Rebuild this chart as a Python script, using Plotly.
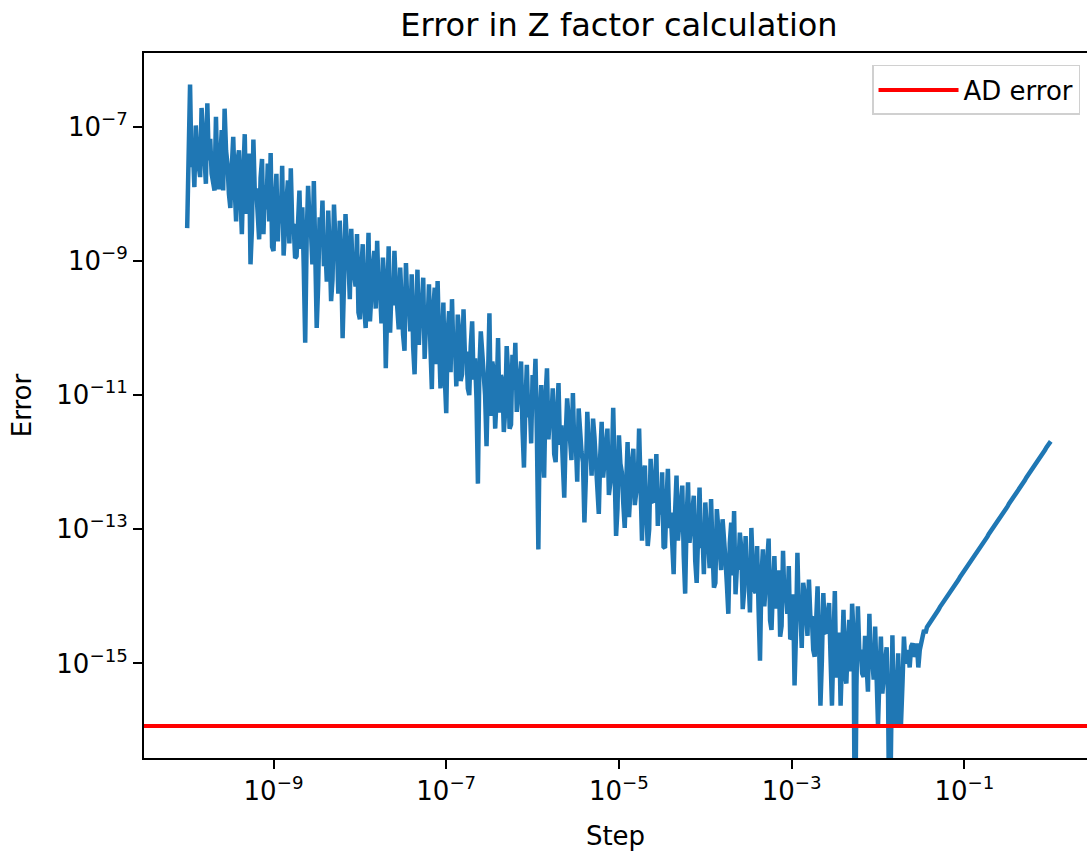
import numpy as np
import plotly.graph_objects as go

# log10 of the finite-difference error for each step size (None = error exactly zero)
err_exp = [
    -8.51, -7.05, -6.37, -7.60, -7.35, -7.90, -6.98, -7.40, -7.62, -7.75,
    -6.72, -7.25, -7.45, -7.85, -6.65, -7.50, -7.18, -7.70, -7.80, -7.95,
    -6.85, -7.80, -7.93, -7.45, -7.05, -7.95, -6.73, -7.35, -7.56, -8.00,
    -8.21, -7.60, -7.15, -7.90, -8.41, -7.50, -7.35, -8.05, -8.60, -7.70,
    -7.11, -8.30, -7.75, -7.40, -9.05, -8.52, -7.19, -8.00, -7.92, -8.33,
    -8.68, -7.76, -7.48, -8.60, -7.87, -8.23, -7.55, -8.41, -7.39, -8.79,
    -8.85, -8.12, -7.70, -8.71, -8.12, -8.44, -7.58, -8.92, -8.30, -8.11,
    -7.80, -8.74, -7.62, -8.47, -8.45, -8.96, -8.93, -8.34, -7.95, -8.82,
    -8.20, -9.10, -10.22, -8.68, -7.88, -8.41, -8.55, -9.05, -7.81, -8.88,
    -10.00, -9.36, -8.35, -8.70, -8.10, -9.08, -8.78, -9.31, -8.25, -8.84,
    -9.60, -9.27, -8.16, -8.71, -8.70, -9.49, -8.40, -8.97, -10.15, -9.30,
    -8.30, -8.74, -8.95, -9.57, -8.52, -9.20, -9.20, -9.38, -8.60, -9.77,
    -9.87, -9.10, -8.75, -9.68, -10.00, -9.41, -8.58, -9.90, -9.30, -9.08,
    -8.85, -9.71, -8.70, -9.44, -9.45, -9.93, -8.95, -9.31, -10.60, -9.79,
    -8.78, -10.07, -9.40, -9.66, -8.85, -9.39, -9.62, -10.02, -9.10, -9.85,
    -10.10, -10.34, -9.03, -9.67, -9.55, -10.05, -9.20, -10.28, -10.69, -9.82,
    -9.13, -10.25, -9.70, -9.68, -9.25, -10.46, -9.90, -9.95, -9.35, -10.28,
    -10.91, -9.71, -9.40, -10.54, -9.30, -10.18, -10.90, -10.36, -9.62, -10.74,
    -11.27, -10.07, -9.75, -10.66, -9.57, -10.39, -10.20, -10.87, -9.80, -10.05,
    -10.79, -10.69, -9.72, -10.42, -10.35, -10.90, -11.00, -10.28, -9.90, -10.77,
    -10.45, -11.05, -12.32, -10.63, -10.05, -10.36, -10.60, -11.00, -11.76, -10.83,
    -9.78, -11.31, -10.50, -10.64, -11.50, -11.03, -10.15, -11.26, -10.70, -10.79,
    -11.55, -11.22, -10.27, -10.66, -11.50, -11.44, -10.40, -10.92, -10.22, -11.25,
    -10.95, -10.69, -10.50, -11.52, -12.08, -11.15, -10.55, -11.33, -11.10, -11.72,
    -10.70, -11.05, -10.46, -11.63, -13.30, -11.36, -10.85, -11.85, -12.23, -11.03,
    -10.60, -11.66, -11.30, -11.39, -10.90, -11.88, -12.00, -11.26, -10.82, -11.74,
    -11.45, -12.02, -12.53, -11.61, -11.05, -11.34, -11.60, -11.97, -10.97, -11.80,
    -11.70, -12.29, -11.20, -11.62, -11.85, -12.00, -12.90, -12.23, -11.25, -11.77,
    -11.75, -12.20, -11.35, -11.63, -12.10, -12.41, -12.77, -11.90, -11.40, -12.23,
    -11.95, -11.66, -11.50, -12.49, -12.25, -12.13, -11.19, -12.31, -13.10, -12.69,
    -11.60, -12.02, -12.15, -12.61, -12.98, -12.34, -11.70, -12.82, -12.30, -12.00,
    -11.80, -12.64, -12.45, -12.37, -11.50, -12.85, -13.17, -12.23, -12.05, -12.72,
    -13.25, -13.00, -11.95, -12.58, -12.60, -12.31, -11.88, -12.95, -12.40, -12.78,
    -12.15, -13.26, -13.28, -12.59, -12.10, -12.98, -12.75, -13.21, -13.67, -12.74,
    -12.20, -13.17, -12.85, -12.61, -12.35, -13.39, -13.96, -12.87, -12.30, -13.20,
    -12.95, -12.64, -12.50, -13.47, -13.80, -13.10, -12.38, -13.28, -13.05, -13.67,
    -12.60, -13.00, -13.20, -13.58, -12.55, -13.31, -13.87, -13.80, -12.70, -12.98,
    -13.30, -13.61, -12.85, -13.34, -13.45, -13.83, -14.26, -13.21, -12.90, -13.69,
    -12.73, -13.97, -13.55, -13.56, -13.05, -13.29, -14.19, -13.92, -13.10, -13.75,
    -13.70, -14.24, -12.98, -13.57, -13.90, -13.95, -13.25, -14.18, -14.96, -13.72,
    -13.30, -14.15, -13.85, -13.58, -13.14, -14.36, -14.50, -13.85, -13.40, -14.18,
    -14.05, -13.61, -14.60, -14.44, -13.32, -14.08, -13.95, -14.26, -13.55, -14.64,
    -14.61, -13.97, -15.33, -14.56, -13.35, -14.29, -14.20, -14.77, -13.80, -13.95,
    -14.45, -14.59, -13.75, -14.32, -14.30, -14.80, -14.90, -14.18, -13.85, -14.67,
    -15.63, -14.95, -13.95, -14.53, -14.55, -14.26, -14.10, -14.90, -15.63, -14.73,
    -13.92, -15.21, -14.70, -14.54, -15.63, -14.93, -14.20, -15.16, -15.30, -14.69,
    -14.35, -15.12, -14.11, -14.56, None, -15.34, -14.15, -14.82, -14.80, -15.15,
    -15.20, -14.59, -14.90, -15.42, -14.26, -15.06, -14.95, -15.24, -14.45, -15.64,
    -15.93, -15.20, -14.60, -15.45, -15.10, -14.95, -14.76, -15.50, None, -15.30,
    -14.58, -15.90, -15.90, -15.40, -14.85, -15.88, -15.88, -15.30, -14.60, -15.00,
    -14.95, -14.80, -15.06, -14.75, -14.70, -14.90, -14.85, -14.70, -15.06, -14.80,
    -14.65, -14.60, -14.50, -14.55, -14.46, -14.43, -14.40, -14.37, -14.33, -14.30,
    -14.26, -14.23, -14.20, -14.16, -14.13, -14.10, -14.07, -14.03, -14.00, -13.97,
    -13.94, -13.91, -13.88, -13.84, -13.81, -13.78, -13.75, -13.71, -13.68, -13.65,
    -13.62, -13.59, -13.56, -13.52, -13.49, -13.46, -13.43, -13.39, -13.36, -13.33,
    -13.30, -13.27, -13.24, -13.20, -13.17, -13.14, -13.11, -13.07, -13.04, -13.01,
    -12.98, -12.94, -12.91, -12.88, -12.85, -12.82, -12.79, -12.75, -12.72, -12.69,
    -12.66, -12.62, -12.59, -12.56, -12.53, -12.49, -12.46, -12.43, -12.40, -12.36,
    -12.33, -12.30, -12.27, -12.23, -12.20, -12.17, -12.14, -12.10, -12.07, -12.04,
    -12.01, -11.98, -11.95, -11.91, -11.88, -11.85, -11.82, -11.78, -11.75, -11.72,
    -11.69,
]

# step sizes: a log-spaced grid from 1e-10 to 1
steps = np.logspace(-10, 0, len(err_exp))

# error of the automatic-differentiation result
ad_error = 1.17e-16

x_tickvals = [1e-9, 1e-7, 1e-5, 1e-3, 1e-1]
x_ticktext = ["10<sup>−9</sup>", "10<sup>−7</sup>", "10<sup>−5</sup>",
              "10<sup>−3</sup>", "10<sup>−1</sup>"]
y_tickvals = [1e-7, 1e-9, 1e-11, 1e-13, 1e-15]
y_ticktext = ["10<sup>−7</sup>", "10<sup>−9</sup>", "10<sup>−11</sup>",
              "10<sup>−13</sup>", "10<sup>−15</sup>"]

# zero errors cannot sit on a log axis; draw them far below the visible range
ZERO_FLOOR = 1e-18
err = np.array([10.0 ** e if e is not None else ZERO_FLOOR for e in err_exp])

fig = go.Figure()
fig.add_trace(go.Scatter(
    x=steps, y=err, mode="lines",
    line=dict(color="#1f77b4", width=4.5),
    showlegend=False, hoverinfo="skip",
))
fig.add_hline(
    y=ad_error, line=dict(color="red", width=4),
    showlegend=True, name="AD error",
)

axis_common = dict(
    type="log",
    ticks="outside", ticklen=9, tickwidth=2, tickcolor="black",
    showline=True, linewidth=2, linecolor="black",
    showgrid=False, zeroline=False,
    tickfont=dict(size=26, color="black"),
)

fig.update_layout(
    width=1087, height=853,
    margin=dict(l=144, r=0, t=53, b=95),
    paper_bgcolor="white", plot_bgcolor="white",
    font=dict(family="DejaVu Sans", size=26, color="black"),
    title=dict(
        text="Error in Z factor calculation",
        font=dict(size=32, color="black"),
        x=619 / 1087, xref="container", xanchor="center",
        y=1 - 25 / 853, yref="container", yanchor="middle",
    ),
    xaxis=dict(
        axis_common, range=[-10.5, 0.42], mirror=True,
        tickvals=x_tickvals, ticktext=x_ticktext,
        title=dict(text="Step", font=dict(size=26), standoff=22),
    ),
    yaxis=dict(
        axis_common, range=[-16.41, -5.90], mirror=False,
        tickvals=y_tickvals, ticktext=y_ticktext,
        title=dict(text="Error", font=dict(size=26), standoff=17),
    ),
    legend=dict(
        x=0.9926, y=0.983, xanchor="right", yanchor="top",
        bordercolor="#d0d0d0", borderwidth=1.5, bgcolor="white",
        itemwidth=80,
        font=dict(size=26, color="black"),
    ),
)

fig.write_html("out.html")
